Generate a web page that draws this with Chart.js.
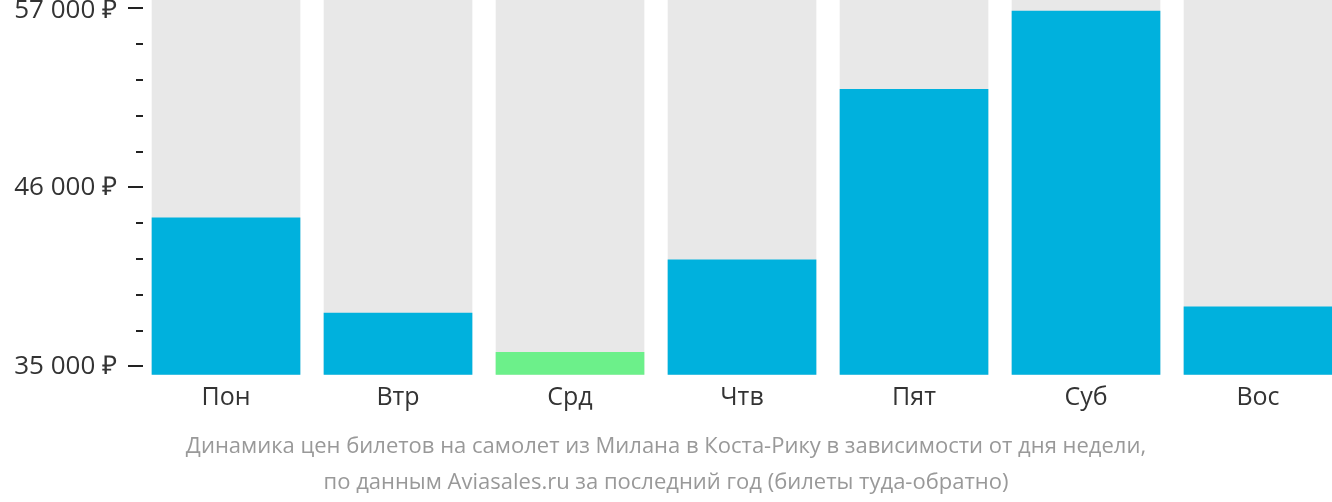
<!DOCTYPE html>
<html>
<head>
<meta charset="utf-8">
<script src="https://cdn.jsdelivr.net/npm/chart.js@4.4.1/dist/chart.umd.min.js"></script>
<style>
  html, body { margin: 0; padding: 0; background: #fff; overflow: hidden; }
  #wrap { width: 1332px; height: 502px; position: relative; }
</style>
</head>
<body>
<div id="wrap"><canvas id="c" width="1332" height="502"></canvas></div>
<script>
// ---- data ----
const days = ['Пон', 'Втр', 'Срд', 'Чтв', 'Пят', 'Суб', 'Вос'];
const prices = [44130, 38270, 35860, 41540, 52020, 56830, 38660];
const majorTicks = [35000, 46000, 57000];
const minorTicks = [37200, 39400, 41600, 43800, 48200, 50400, 52600, 54800];
const titleLines = [
  'Динамика цен билетов на самолет из Милана в Коста-Рику в зависимости от дня недели,',
  'по данным Aviasales.ru за последний год (билеты туда-обратно)'
];
const yMin = 34489, yMax = 57512;

const minPrice = Math.min(...prices);
const barColors = prices.map(p => p === minPrice ? '#6cf08a' : '#00b1dd');

const fmt = v => String(v).replace(/\B(?=(\d{3})+(?!\d))/g, '\u00a0') + '\u00a0₽';
const topTick = majorTicks[majorTicks.length - 1];
const yFont = { family: '"Open Sans", sans-serif', size: 26 };

// let the zero-width top-label axis use the full left margin for its label
const widenTopLabelAxis = {
  id: 'widenTopLabelAxis',
  afterLayout(chart) {
    const s = chart.scales.yTop;
    if (s) { s.left = 0; }
  }
};

new Chart(document.getElementById('c'), {
  type: 'bar',
  plugins: [widenTopLabelAxis],
  data: {
    datasets: [
      {
        data: days.map((d, i) => ({ x: i, y: prices[i] })),
        backgroundColor: barColors,
        barThickness: 148,
        grouped: false,
        order: 1
      },
      {
        data: days.map((d, i) => ({ x: i, y: yMax })),
        backgroundColor: '#e8e8e8',
        barThickness: 148,
        grouped: false,
        order: 2
      }
    ]
  },
  options: {
    responsive: false,
    animation: false,
    layout: { padding: { left: 0, right: 0, top: 0, bottom: 1 } },
    plugins: {
      legend: { display: false },
      tooltip: { enabled: false },
      title: {
        display: true,
        position: 'bottom',
        text: titleLines,
        color: '#999999',
        font: { family: '"Open Sans", sans-serif', size: 22, weight: 'normal', lineHeight: 1.64 },
        padding: { top: 8, bottom: 0 }
      }
    },
    scales: {
      x: {
        type: 'linear',
        offset: false,
        min: -0.4826,
        max: 6.4302,
        afterBuildTicks: s => { s.ticks = days.map((d, i) => ({ value: i })); },
        afterFit: s => { s.height = 46.2; s.paddingLeft = 0; s.paddingRight = 0; },
        ticks: {
          callback: v => days[v],
          color: '#333333',
          font: { family: '"Open Sans", sans-serif', size: 25 },
          padding: 8,
          maxRotation: 0,
          autoSkip: false
        },
        grid: { display: false, drawTicks: false },
        border: { display: false }
      },
      y: {
        min: yMin,
        max: yMax,
        position: 'left',
        weight: 2,
        afterBuildTicks: s => { s.ticks = majorTicks.map(v => ({ value: v })); },
        afterFit: s => { s.width = 143; s.paddingTop = 0; s.paddingBottom = 0; },
        ticks: {
          callback: v => (v === topTick ? '' : fmt(v)),
          color: '#333333',
          font: yFont,
          padding: 11
        },
        grid: { drawOnChartArea: false, drawTicks: true, tickLength: 15, color: '#222222', lineWidth: 2 },
        border: { display: false }
      },
      yTop: {
        min: yMin,
        max: yMax,
        position: 'left',
        weight: 1,
        afterBuildTicks: s => { s.ticks = [{ value: topTick }]; },
        afterFit: s => { s.width = 0; s.paddingTop = 0; s.paddingBottom = 0; },
        ticks: {
          callback: v => fmt(v),
          color: '#333333',
          font: yFont,
          padding: 11,
          labelOffset: 2.2
        },
        grid: { drawOnChartArea: false, drawTicks: true, tickLength: 15, color: 'rgba(0,0,0,0)', lineWidth: 0 },
        border: { display: false }
      },
      y2: {
        min: yMin,
        max: yMax,
        position: 'left',
        weight: 0,
        afterBuildTicks: s => { s.ticks = minorTicks.map(v => ({ value: v })); },
        afterFit: s => { s.width = 0; s.paddingTop = 0; s.paddingBottom = 0; },
        ticks: { display: false },
        grid: { drawOnChartArea: false, drawTicks: true, tickLength: 7, color: '#222222', lineWidth: 2 },
        border: { display: false }
      }
    }
  }
});
</script>
</body>
</html>
